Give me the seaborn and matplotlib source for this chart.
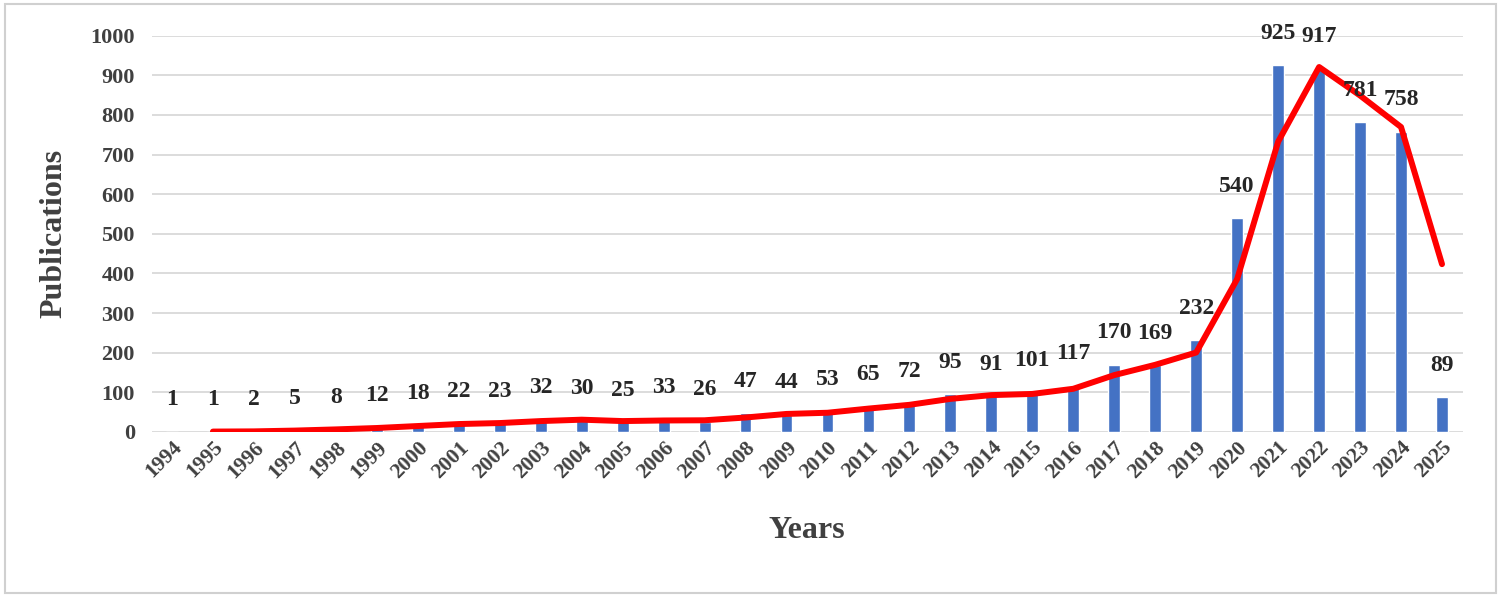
import numpy as np
import pandas as pd
import matplotlib.pyplot as plt
from matplotlib.patches import Rectangle
import seaborn as sns

# publications per year
years = [str(y) for y in range(1994, 2026)]
pubs = [1, 1, 2, 5, 8, 12, 18, 22, 23, 32, 30, 25, 33, 26, 47, 44, 53, 65, 72, 95,
        91, 101, 117, 170, 169, 232, 540, 925, 917, 781, 758, 89]

df = pd.DataFrame({'Year': years, 'Publications': pubs})
# excel style 2-period moving average trendline
df['trend'] = df['Publications'].rolling(2).mean()
df['pos'] = np.arange(len(df))

sns.set_style('white')
plt.rcParams['font.family'] = ['Liberation Serif', 'DejaVu Serif']
plt.rcParams['font.weight'] = 'bold'

fig = plt.figure(figsize=(15, 5.95), dpi=100)
ax = fig.add_axes([0.101, 0.274, 0.874, 0.666])

sns.barplot(data=df, x='Year', y='Publications', color='#4472C4', saturation=1,
            width=0.29, ax=ax, zorder=2)
sns.lineplot(data=df.dropna(), x='pos', y='trend', color='#FF0000', lw=4.3,
             ax=ax, zorder=3)

for i, v in enumerate(pubs):
    ax.text(i, v + 80, str(v), ha='center', va='center', fontsize=17,
            fontweight='bold', color='#262626', zorder=4, clip_on=False)

ax.set_xlim(-0.5, len(years) - 0.5)
ax.set_ylim(0, 1000)
ax.set_yticks(range(0, 1001, 100))
ax.yaxis.grid(True, color='#d9d9d9', lw=1.3)
ax.set_axisbelow(True)
for s in ax.spines.values():
    s.set_visible(False)
ax.tick_params(length=0, labelcolor='#404040')
ax.tick_params(axis='y', pad=12, labelsize=16)
ax.tick_params(axis='x', pad=4, labelsize=15.5)
plt.setp(ax.get_xticklabels(), rotation=45, ha='right', rotation_mode='anchor',
         fontweight='bold')
plt.setp(ax.get_yticklabels(), fontweight='bold')

ax.set_xlabel('Years', fontsize=23, fontweight='bold', color='#404040', labelpad=24)
ax.set_ylabel('Publications', fontsize=23, fontweight='bold', color='#404040', labelpad=16)

fig.patches.append(Rectangle((0.003, 0.004), 0.994, 0.99, transform=fig.transFigure,
                             fill=False, ec='#d0d0d0', lw=1.5))

fig.savefig('out.png', dpi=100)
